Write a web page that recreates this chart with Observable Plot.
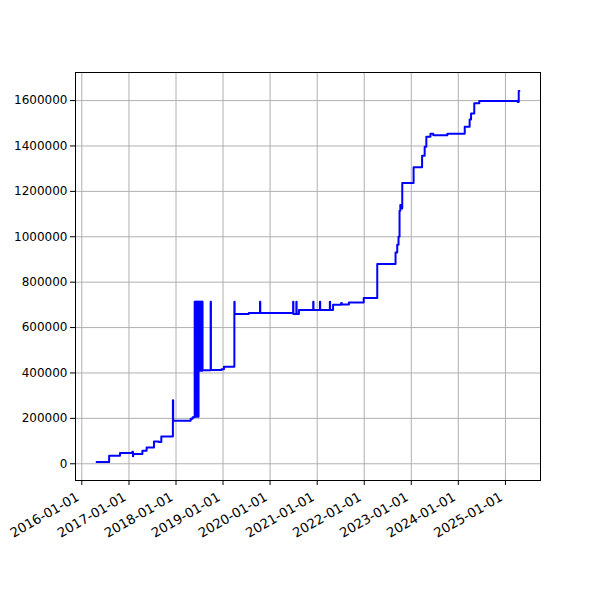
<!DOCTYPE html>
<html>
<head>
<meta charset="utf-8">
<script src="https://cdn.jsdelivr.net/npm/d3@7"></script>
<script src="https://cdn.jsdelivr.net/npm/@observablehq/plot@0.6"></script>
<style>
  html, body { margin: 0; padding: 0; background: white; }
  #chart { width: 600px; height: 600px; }
</style>
</head>
<body>
<div id="chart"></div>
<script>
// ---- data ----
const dates = [
  "2016-04-25","2016-07-31","2016-10-23","2017-01-27","2017-02-01","2017-02-03",
  "2017-04-15","2017-05-18","2017-07-14","2017-08-20","2017-09-09","2017-12-06",
  "2017-12-08","2017-12-10","2018-04-25","2018-05-10",
  "2018-05-26","2018-05-29","2018-06-01","2018-06-04","2018-06-07","2018-06-10",
  "2018-06-13","2018-06-16","2018-06-19","2018-06-22","2018-06-25","2018-06-28",
  "2018-07-01","2018-07-04","2018-07-07","2018-07-10","2018-07-13","2018-07-16",
  "2018-07-19","2018-07-22","2018-07-24","2018-07-26",
  "2018-09-27","2018-09-29","2018-12-20","2019-01-08",
  "2019-03-30","2019-04-01","2019-07-20","2019-10-15","2019-10-17",
  "2020-06-28","2020-06-30","2020-07-23","2020-07-25","2020-08-12",
  "2020-12-01","2020-12-03","2021-01-22","2021-01-24","2021-04-09","2021-04-11",
  "2021-05-04","2021-07-06","2021-07-10","2021-09-04","2021-12-28",
  "2022-04-12","2022-09-01","2022-09-14","2022-09-24","2022-10-02","2022-10-08",
  "2022-10-12","2022-10-23","2023-01-19","2023-03-26","2023-04-15","2023-04-28",
  "2023-05-30","2023-06-21","2023-10-08","2024-02-20","2024-03-29","2024-04-09",
  "2024-05-04","2024-06-12","2025-04-06","2025-04-14","2025-04-19"
];
const values = [
  8000, 35000, 47000, 53000, 33000, 43000,
  57000, 72000, 98000, 96000, 120000, 120000,
  280000, 190000, 198000, 205000,
  714000, 207000, 714000, 207000, 714000, 207000,
  714000, 207000, 714000, 207000, 714000, 410000,
  714000, 410000, 714000, 410000, 714000, 410000,
  714000, 410000, 714000, 412000,
  714000, 413000, 416000, 427000,
  714000, 660000, 664000, 714000, 664000,
  714000, 660000, 714000, 660000, 677000,
  714000, 677000, 714000, 677000, 714000, 677000,
  700000, 708000, 702000, 711000, 730000,
  880000, 931000, 965000, 1000000, 1115000, 1140000,
  1125000, 1237000, 1306000, 1357000, 1397000, 1441000,
  1454000, 1447000, 1454000, 1485000, 1517000, 1543000,
  1588000, 1598000, 1594000, 1642000, 1642000
];
const xTickLabels = ["2016-01-01","2017-01-01","2018-01-01","2019-01-01","2020-01-01",
  "2021-01-01","2022-01-01","2023-01-01","2024-01-01","2025-01-01"];
const yTicks = [0, 200000, 400000, 600000, 800000, 1000000, 1200000, 1400000, 1600000];

// ---- build table ----
const parse = d3.utcParse("%Y-%m-%d");
const data = dates.map((d, i) => ({date: parse(d), value: values[i]}));
const xTicks = xTickLabels.map(parse);

// matplotlib-like 5% margins
const [x0, x1] = d3.extent(data, d => d.date);
const xpad = (x1 - x0) * 0.05;
const [y0, y1] = d3.extent(data, d => d.value);
const ypad = (y1 - y0) * 0.05;

const chart = Plot.plot({
  width: 600,
  height: 600,
  marginLeft: 75,
  marginRight: 60,
  marginTop: 72,
  marginBottom: 120,
  style: {fontFamily: "DejaVu Sans", fontSize: "12px", color: "black", background: "white"},
  x: {type: "utc", domain: [new Date(+x0 - xpad), new Date(+x1 + xpad)]},
  y: {domain: [y0 - ypad, y1 + ypad]},
  marks: [
    Plot.gridX(xTicks, {stroke: "#b0b0b0", strokeOpacity: 1, strokeWidth: 1}),
    Plot.gridY(yTicks, {stroke: "#b0b0b0", strokeOpacity: 1, strokeWidth: 1}),
    Plot.line(data, {x: "date", y: "value", curve: "step-after", stroke: "#0000ff", strokeWidth: 2}),
    Plot.frame({stroke: "black", strokeWidth: 1}),
    Plot.axisX(xTicks, {tickFormat: () => "", tickSize: 5, label: null}),
    Plot.axisX(xTicks, {tickRotate: -30, tickFormat: d3.utcFormat("%Y-%m-%d"), tickSize: 0, tickPadding: 15.5, dx: -4, label: null, fontSize: 13.2}),
    Plot.axisY(yTicks, {tickFormat: d => String(d), tickSize: 5, tickPadding: 3, label: null, fontSize: 12})
  ]
});
document.getElementById("chart").appendChild(chart);
</script>
</body>
</html>
